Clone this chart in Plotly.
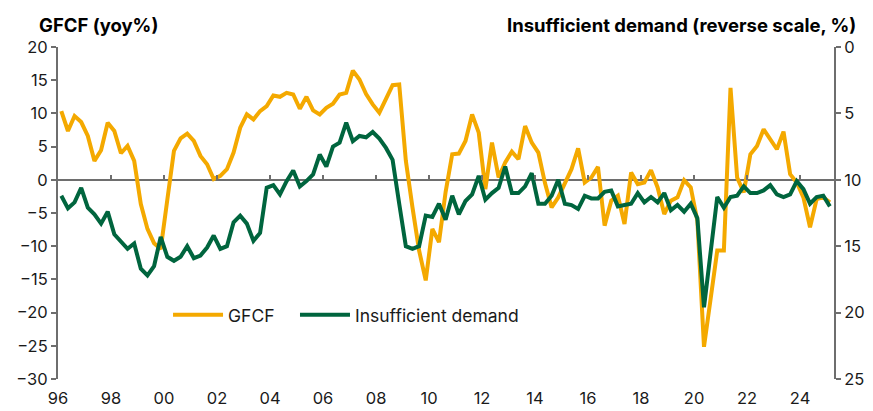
import plotly.graph_objects as go

# ---- data (quarterly, 1996Q1 .. 2025Q1) ----
quarters = [f"{y}Q{q}" for y in range(1996, 2026) for q in range(1, 5)][:117]
x_pos = [int(s[:4]) + (int(s[-1]) - 1) / 4 + 0.125 for s in quarters]

gfcf = [
    10.35, 7.35, 9.6, 8.7, 6.6, 2.85, 4.45, 8.6, 7.35, 4.0,
    5.1, 2.85, -3.65, -7.4, -9.55, -10.4, -3.0, 4.35, 6.25, 6.95,
    5.85, 3.6, 2.35, 0.1, 0.6, 1.6, 4.1, 7.85, 9.85, 9.1,
    10.35, 11.1, 12.7, 12.5, 13.1, 12.85, 10.7, 12.5, 10.45, 9.85,
    10.85, 11.45, 12.85, 13.1, 16.45, 15.1, 12.9, 11.35, 10.1, 12.1,
    14.25, 14.35, 2.85, -4.15, -10.65, -15.15, -7.4, -9.4, -1.85, 3.85,
    3.95, 5.85, 9.85, 7.1, -1.4, 5.6, 0.35, 2.6, 4.25, 3.1,
    8.1, 5.6, 4.1, -0.5, -4.15, -2.65, -0.65, 1.6, 4.75, -0.4,
    0.35, 1.95, -6.9, -3.15, -2.4, -6.65, 1.1, -0.65, -0.4, 1.45,
    -1.15, -5.15, -3.15, -2.65, -0.05, -1.15, -6.2, -25.15, -17.9, -10.65,
    -10.65, 13.85, 0.35, -1.9, 3.85, 5.1, 7.6, 6.1, 4.6, 7.25,
    0.85, -0.4, -2.65, -7.15, -2.9, -2.65, -3.4,
]

insufficient_demand = [
    11.2, 12.15, 11.7, 10.6, 12.1, 12.6, 13.3, 12.4, 14.1, 14.7,
    15.2, 14.8, 16.7, 17.2, 16.5, 14.3, 15.8, 16.1, 15.8, 15.0,
    15.9, 15.7, 15.1, 14.2, 15.2, 15.0, 13.2, 12.7, 13.3, 14.6,
    14.0, 10.6, 10.4, 11.1, 10.1, 9.3, 10.5, 10.1, 9.6, 8.1,
    9.0, 7.5, 7.2, 5.7, 7.1, 6.7, 6.8, 6.4, 6.9, 7.6,
    8.5, 11.8, 15.0, 15.2, 15.0, 12.7, 12.8, 11.8, 13.0, 11.2,
    12.6, 11.6, 11.1, 9.7, 11.5, 11.0, 10.6, 9.0, 11.0, 11.0,
    10.5, 9.5, 11.8, 11.8, 11.2, 10.0, 11.8, 11.9, 12.2, 11.2,
    11.4, 11.4, 10.9, 10.8, 12.0, 11.9, 11.8, 11.0, 11.7, 11.3,
    11.7, 11.0, 12.3, 11.9, 12.4, 11.8, 12.9, 19.6, 15.4, 11.3,
    12.1, 11.3, 11.2, 10.5, 11.0, 11.0, 10.8, 10.4, 11.1, 11.3,
    11.1, 10.1, 10.7, 11.8, 11.3, 11.2, 12.0,
]

tick_years = [1996, 1998, 2000, 2002, 2004, 2006, 2008, 2010,
              2012, 2014, 2016, 2018, 2020, 2022, 2024]
tick_labels = ["96", "98", "00", "02", "04", "06", "08", "10",
               "12", "14", "16", "18", "20", "22", "24"]
left_ticks = [20, 15, 10, 5, 0, -5, -10, -15, -20, -25, -30]
right_ticks = [0, 5, 10, 15, 20, 25]

ORANGE = "#F4A900"
GREEN = "#00653E"
AXIS = "#6e6e6e"
TEXT = "#1a1a1a"
FONT = "Inter"
X_RANGE = [1996, 2025.28]

fig = go.Figure()
fig.add_trace(go.Scatter(
    x=x_pos, y=gfcf, name="GFCF", mode="lines",
    line=dict(color=ORANGE, width=4), yaxis="y", xaxis="x", legend="legend",
))
fig.add_trace(go.Scatter(
    x=x_pos, y=insufficient_demand, name="Insufficient demand", mode="lines",
    line=dict(color=GREEN, width=4), yaxis="y2", xaxis="x", legend="legend2",
))
# carrier for the tick marks on the zero line
fig.add_trace(go.Scatter(x=[None], y=[None], xaxis="x2", yaxis="y",
                         showlegend=False, hoverinfo="skip"))

legend_common = dict(orientation="h", yanchor="middle", xanchor="left",
                     bgcolor="rgba(0,0,0,0)", font=dict(size=17.5, color=TEXT),
                     itemwidth=50)

fig.update_layout(
    width=873, height=411,
    margin=dict(l=58, r=39, t=47, b=32, autoexpand=False),
    paper_bgcolor="white", plot_bgcolor="white",
    font=dict(family=FONT, size=16, color=TEXT),
    showlegend=True,
    legend=dict(x=0.1418, y=0.193, **legend_common),
    legend2=dict(x=0.3054, y=0.193, **legend_common),
    xaxis=dict(range=X_RANGE, tickmode="array", tickvals=tick_years, ticktext=tick_labels,
               showline=False, showgrid=False, zeroline=False, automargin=False,
               ticks="outside", ticklen=4, tickcolor="rgba(0,0,0,0)",
               tickfont=dict(size=16.5, color=TEXT)),
    xaxis2=dict(range=X_RANGE, overlaying="x", anchor="free", position=0.6, side="bottom",
                tickmode="array", tickvals=tick_years, showticklabels=False,
                showline=False, showgrid=False, zeroline=False, automargin=False,
                ticks="inside", ticklen=5, tickwidth=1.5, tickcolor=AXIS),
    yaxis=dict(range=[-30, 20], tickmode="array", tickvals=left_ticks,
               showline=True, linecolor=AXIS, linewidth=2, automargin=False,
               ticks="outside", ticklen=5, tickwidth=1.5, tickcolor=AXIS,
               showgrid=False, zeroline=True, zerolinecolor=AXIS, zerolinewidth=2,
               tickfont=dict(size=16.5, color=TEXT)),
    yaxis2=dict(range=[25, 0], overlaying="y", side="right", tickmode="array",
                tickvals=right_ticks, showline=True, linecolor=AXIS, linewidth=2,
                ticks="outside", ticklen=5, tickwidth=1.5, tickcolor=AXIS,
                showgrid=False, zeroline=False, automargin=False,
                tickfont=dict(size=16.5, color=TEXT)),
    annotations=[
        dict(text="<b>GFCF (yoy%)</b>", xref="paper", yref="paper",
             x=-0.027, y=1.066, xanchor="left", yanchor="middle",
             showarrow=False, font=dict(size=18.5, color="#000000")),
        dict(text="<b>Insufficient demand (reverse scale, %)</b>", xref="paper", yref="paper",
             x=1.031, y=1.066, xanchor="right", yanchor="middle",
             showarrow=False, font=dict(size=18.5, color="#000000")),
    ],
)

fig.write_html("out.html", config={"displayModeBar": False},
               post_script="document.body.style.margin='0';")
